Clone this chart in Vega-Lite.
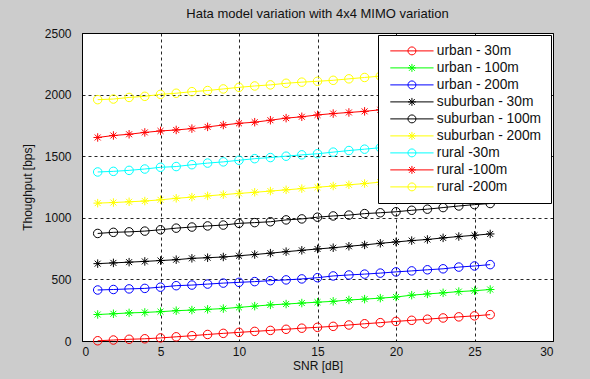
{
"$schema": "https://vega.github.io/schema/vega-lite/v6.json",
"width": 471, "height": 308,
"autosize": {"type": "none"},
"padding": {"left": 82, "top": 33, "right": 37, "bottom": 38},
"background": "#cccccc",
"title": {"text": "Hata model variation with 4x4 MIMO variation", "font": "Liberation Sans", "fontSize": 13, "fontWeight": "normal", "color": "#111111", "offset": 6},
"config": {
  "view": {"fill": "white", "stroke": "black", "strokeWidth": 1},
  "axis": {"grid": true, "gridColor": "#000000", "gridDash": [3, 3], "gridOpacity": 0.85, "gridWidth": 1, "domain": false, "ticks": false,
    "labelFont": "Liberation Sans", "labelFontSize": 12, "labelColor": "#111111",
    "titleFont": "Liberation Sans", "titleFontSize": 12, "titleFontWeight": "normal", "titleColor": "#111111"}
},
"data": {"values": [
{"s":"urban - 30m","x":1,"y":2},{"s":"urban - 30m","x":2,"y":8},{"s":"urban - 30m","x":3,"y":14},{"s":"urban - 30m","x":4,"y":18},{"s":"urban - 30m","x":5,"y":25},{"s":"urban - 30m","x":6,"y":34},{"s":"urban - 30m","x":7,"y":43},{"s":"urban - 30m","x":8,"y":53},{"s":"urban - 30m","x":9,"y":62},{"s":"urban - 30m","x":10,"y":70},{"s":"urban - 30m","x":11,"y":78},{"s":"urban - 30m","x":12,"y":86},{"s":"urban - 30m","x":13,"y":95},{"s":"urban - 30m","x":14,"y":104},{"s":"urban - 30m","x":15,"y":111},{"s":"urban - 30m","x":16,"y":119},{"s":"urban - 30m","x":17,"y":130},{"s":"urban - 30m","x":18,"y":140},{"s":"urban - 30m","x":19,"y":149},{"s":"urban - 30m","x":20,"y":159},{"s":"urban - 30m","x":21,"y":168},{"s":"urban - 30m","x":22,"y":177},{"s":"urban - 30m","x":23,"y":187},{"s":"urban - 30m","x":24,"y":196},{"s":"urban - 30m","x":25,"y":204},{"s":"urban - 30m","x":26,"y":214},
{"s":"urban - 100m","x":1,"y":215},{"s":"urban - 100m","x":2,"y":221},{"s":"urban - 100m","x":3,"y":228},{"s":"urban - 100m","x":4,"y":232},{"s":"urban - 100m","x":5,"y":238},{"s":"urban - 100m","x":6,"y":246},{"s":"urban - 100m","x":7,"y":251},{"s":"urban - 100m","x":8,"y":257},{"s":"urban - 100m","x":9,"y":263},{"s":"urban - 100m","x":10,"y":273},{"s":"urban - 100m","x":11,"y":283},{"s":"urban - 100m","x":12,"y":293},{"s":"urban - 100m","x":13,"y":300},{"s":"urban - 100m","x":14,"y":308},{"s":"urban - 100m","x":15,"y":315},{"s":"urban - 100m","x":16,"y":322},{"s":"urban - 100m","x":17,"y":333},{"s":"urban - 100m","x":18,"y":340},{"s":"urban - 100m","x":19,"y":348},{"s":"urban - 100m","x":20,"y":357},{"s":"urban - 100m","x":21,"y":372},{"s":"urban - 100m","x":22,"y":382},{"s":"urban - 100m","x":23,"y":391},{"s":"urban - 100m","x":24,"y":401},{"s":"urban - 100m","x":25,"y":408},{"s":"urban - 100m","x":26,"y":418},
{"s":"urban - 200m","x":1,"y":414},{"s":"urban - 200m","x":2,"y":418},{"s":"urban - 200m","x":3,"y":423},{"s":"urban - 200m","x":4,"y":427},{"s":"urban - 200m","x":5,"y":437},{"s":"urban - 200m","x":6,"y":449},{"s":"urban - 200m","x":7,"y":454},{"s":"urban - 200m","x":8,"y":462},{"s":"urban - 200m","x":9,"y":470},{"s":"urban - 200m","x":10,"y":476},{"s":"urban - 200m","x":11,"y":482},{"s":"urban - 200m","x":12,"y":490},{"s":"urban - 200m","x":13,"y":496},{"s":"urban - 200m","x":14,"y":504},{"s":"urban - 200m","x":15,"y":514},{"s":"urban - 200m","x":16,"y":528},{"s":"urban - 200m","x":17,"y":536},{"s":"urban - 200m","x":18,"y":543},{"s":"urban - 200m","x":19,"y":551},{"s":"urban - 200m","x":20,"y":561},{"s":"urban - 200m","x":21,"y":569},{"s":"urban - 200m","x":22,"y":578},{"s":"urban - 200m","x":23,"y":586},{"s":"urban - 200m","x":24,"y":600},{"s":"urban - 200m","x":25,"y":609},{"s":"urban - 200m","x":26,"y":620},
{"s":"suburban - 30m","x":1,"y":628},{"s":"suburban - 30m","x":2,"y":634},{"s":"suburban - 30m","x":3,"y":640},{"s":"suburban - 30m","x":4,"y":646},{"s":"suburban - 30m","x":5,"y":653},{"s":"suburban - 30m","x":6,"y":660},{"s":"suburban - 30m","x":7,"y":671},{"s":"suburban - 30m","x":8,"y":676},{"s":"suburban - 30m","x":9,"y":682},{"s":"suburban - 30m","x":10,"y":692},{"s":"suburban - 30m","x":11,"y":702},{"s":"suburban - 30m","x":12,"y":713},{"s":"suburban - 30m","x":13,"y":725},{"s":"suburban - 30m","x":14,"y":736},{"s":"suburban - 30m","x":15,"y":747},{"s":"suburban - 30m","x":16,"y":757},{"s":"suburban - 30m","x":17,"y":769},{"s":"suburban - 30m","x":18,"y":780},{"s":"suburban - 30m","x":19,"y":793},{"s":"suburban - 30m","x":20,"y":804},{"s":"suburban - 30m","x":21,"y":815},{"s":"suburban - 30m","x":22,"y":824},{"s":"suburban - 30m","x":23,"y":837},{"s":"suburban - 30m","x":24,"y":848},{"s":"suburban - 30m","x":25,"y":858},{"s":"suburban - 30m","x":26,"y":869},
{"s":"suburban - 100m","x":1,"y":873},{"s":"suburban - 100m","x":2,"y":882},{"s":"suburban - 100m","x":3,"y":886},{"s":"suburban - 100m","x":4,"y":892},{"s":"suburban - 100m","x":5,"y":903},{"s":"suburban - 100m","x":6,"y":916},{"s":"suburban - 100m","x":7,"y":925},{"s":"suburban - 100m","x":8,"y":934},{"s":"suburban - 100m","x":9,"y":941},{"s":"suburban - 100m","x":10,"y":955},{"s":"suburban - 100m","x":11,"y":961},{"s":"suburban - 100m","x":12,"y":968},{"s":"suburban - 100m","x":13,"y":983},{"s":"suburban - 100m","x":14,"y":991},{"s":"suburban - 100m","x":15,"y":1005},{"s":"suburban - 100m","x":16,"y":1015},{"s":"suburban - 100m","x":17,"y":1022},{"s":"suburban - 100m","x":18,"y":1034},{"s":"suburban - 100m","x":19,"y":1041},{"s":"suburban - 100m","x":20,"y":1049},{"s":"suburban - 100m","x":21,"y":1061},{"s":"suburban - 100m","x":22,"y":1070},{"s":"suburban - 100m","x":23,"y":1083},{"s":"suburban - 100m","x":24,"y":1096},{"s":"suburban - 100m","x":25,"y":1107},{"s":"suburban - 100m","x":26,"y":1116},
{"s":"suburban - 200m","x":1,"y":1119},{"s":"suburban - 200m","x":2,"y":1124},{"s":"suburban - 200m","x":3,"y":1130},{"s":"suburban - 200m","x":4,"y":1136},{"s":"suburban - 200m","x":5,"y":1146},{"s":"suburban - 200m","x":6,"y":1158},{"s":"suburban - 200m","x":7,"y":1168},{"s":"suburban - 200m","x":8,"y":1178},{"s":"suburban - 200m","x":9,"y":1188},{"s":"suburban - 200m","x":10,"y":1198},{"s":"suburban - 200m","x":11,"y":1207},{"s":"suburban - 200m","x":12,"y":1217},{"s":"suburban - 200m","x":13,"y":1227},{"s":"suburban - 200m","x":14,"y":1237},{"s":"suburban - 200m","x":15,"y":1248},{"s":"suburban - 200m","x":16,"y":1258},{"s":"suburban - 200m","x":17,"y":1268},{"s":"suburban - 200m","x":18,"y":1278},{"s":"suburban - 200m","x":19,"y":1289},{"s":"suburban - 200m","x":20,"y":1300},{"s":"suburban - 200m","x":21,"y":1311},{"s":"suburban - 200m","x":22,"y":1322},{"s":"suburban - 200m","x":23,"y":1333},{"s":"suburban - 200m","x":24,"y":1344},{"s":"suburban - 200m","x":25,"y":1355},{"s":"suburban - 200m","x":26,"y":1366},
{"s":"rural -30m","x":1,"y":1372},{"s":"rural -30m","x":2,"y":1377},{"s":"rural -30m","x":3,"y":1385},{"s":"rural -30m","x":4,"y":1396},{"s":"rural -30m","x":5,"y":1410},{"s":"rural -30m","x":6,"y":1416},{"s":"rural -30m","x":7,"y":1431},{"s":"rural -30m","x":8,"y":1444},{"s":"rural -30m","x":9,"y":1454},{"s":"rural -30m","x":10,"y":1467},{"s":"rural -30m","x":11,"y":1480},{"s":"rural -30m","x":12,"y":1489},{"s":"rural -30m","x":13,"y":1500},{"s":"rural -30m","x":14,"y":1511},{"s":"rural -30m","x":15,"y":1520},{"s":"rural -30m","x":16,"y":1533},{"s":"rural -30m","x":17,"y":1546},{"s":"rural -30m","x":18,"y":1557},{"s":"rural -30m","x":19,"y":1569},{"s":"rural -30m","x":20,"y":1581},{"s":"rural -30m","x":21,"y":1593},{"s":"rural -30m","x":22,"y":1605},{"s":"rural -30m","x":23,"y":1617},{"s":"rural -30m","x":24,"y":1629},{"s":"rural -30m","x":25,"y":1641},{"s":"rural -30m","x":26,"y":1653},
{"s":"rural -100m","x":1,"y":1652},{"s":"rural -100m","x":2,"y":1668},{"s":"rural -100m","x":3,"y":1678},{"s":"rural -100m","x":4,"y":1693},{"s":"rural -100m","x":5,"y":1705},{"s":"rural -100m","x":6,"y":1713},{"s":"rural -100m","x":7,"y":1724},{"s":"rural -100m","x":8,"y":1738},{"s":"rural -100m","x":9,"y":1753},{"s":"rural -100m","x":10,"y":1767},{"s":"rural -100m","x":11,"y":1776},{"s":"rural -100m","x":12,"y":1792},{"s":"rural -100m","x":13,"y":1809},{"s":"rural -100m","x":14,"y":1820},{"s":"rural -100m","x":15,"y":1835},{"s":"rural -100m","x":16,"y":1846},{"s":"rural -100m","x":17,"y":1855},{"s":"rural -100m","x":18,"y":1864},{"s":"rural -100m","x":19,"y":1877},{"s":"rural -100m","x":20,"y":1890},{"s":"rural -100m","x":21,"y":1903},{"s":"rural -100m","x":22,"y":1916},{"s":"rural -100m","x":23,"y":1929},{"s":"rural -100m","x":24,"y":1942},{"s":"rural -100m","x":25,"y":1955},{"s":"rural -100m","x":26,"y":1968},
{"s":"rural -200m","x":1,"y":1959},{"s":"rural -200m","x":2,"y":1964},{"s":"rural -200m","x":3,"y":1977},{"s":"rural -200m","x":4,"y":1986},{"s":"rural -200m","x":5,"y":2002},{"s":"rural -200m","x":6,"y":2011},{"s":"rural -200m","x":7,"y":2024},{"s":"rural -200m","x":8,"y":2033},{"s":"rural -200m","x":9,"y":2046},{"s":"rural -200m","x":10,"y":2059},{"s":"rural -200m","x":11,"y":2070},{"s":"rural -200m","x":12,"y":2079},{"s":"rural -200m","x":13,"y":2092},{"s":"rural -200m","x":14,"y":2101},{"s":"rural -200m","x":15,"y":2108},{"s":"rural -200m","x":16,"y":2116},{"s":"rural -200m","x":17,"y":2128},{"s":"rural -200m","x":18,"y":2139},{"s":"rural -200m","x":19,"y":2150},{"s":"rural -200m","x":20,"y":2161},{"s":"rural -200m","x":21,"y":2172},{"s":"rural -200m","x":22,"y":2183},{"s":"rural -200m","x":23,"y":2194},{"s":"rural -200m","x":24,"y":2205},{"s":"rural -200m","x":25,"y":2216},{"s":"rural -200m","x":26,"y":2227}
]},
"encoding": {
  "x": {"field": "x", "type": "quantitative", "scale": {"domain": [0, 30], "nice": false, "zero": false},
        "axis": {"values": [0, 5, 10, 15, 20, 25, 30], "title": "SNR [dB]", "labelPadding": 5, "titlePadding": 3}},
  "y": {"field": "y", "type": "quantitative", "scale": {"domain": [0, 2500], "nice": false},
        "axis": {"values": [0, 500, 1000, 1500, 2000, 2500], "format": "d", "title": "Thoughput [bps]", "labelPadding": 11, "titlePadding": 10}}
},
"layer": [
  {"mark": {"type": "line", "strokeWidth": 1},
   "encoding": {"color": {"field": "s", "type": "nominal", "legend": null,
     "scale": {"domain": ["urban - 30m","urban - 100m","urban - 200m","suburban - 30m","suburban - 100m","suburban - 200m","rural -30m","rural -100m","rural -200m"],
               "range": ["#ff0000","#00ff00","#0000ff","#000000","#000000","#ffff00","#00ffff","#ff0000","#ffff00"]}}}},
  {"mark": {"type": "point", "filled": false, "size": 72, "strokeWidth": 1, "opacity": 1},
   "encoding": {
     "color": {"field": "s", "type": "nominal", "legend": null,
       "scale": {"domain": ["urban - 30m","urban - 100m","urban - 200m","suburban - 30m","suburban - 100m","suburban - 200m","rural -30m","rural -100m","rural -200m"],
                 "range": ["#ff0000","#00ff00","#0000ff","#000000","#000000","#ffff00","#00ffff","#ff0000","#ffff00"]}},
     "shape": {"field": "s", "type": "nominal", "legend": null,
       "scale": {"domain": ["urban - 30m","urban - 100m","urban - 200m","suburban - 30m","suburban - 100m","suburban - 200m","rural -30m","rural -100m","rural -200m"],
                 "range": ["circle","M-1,0H1M0,-1V1M-0.7,-0.7L0.7,0.7M-0.7,0.7L0.7,-0.7","circle","M-1,0H1M0,-1V1M-0.7,-0.7L0.7,0.7M-0.7,0.7L0.7,-0.7","circle","M-1,0H1M0,-1V1M-0.7,-0.7L0.7,0.7M-0.7,0.7L0.7,-0.7","circle","M-1,0H1M0,-1V1M-0.7,-0.7L0.7,0.7M-0.7,0.7L0.7,-0.7","circle"]}}}},
  {"mark": {"type": "point", "filled": false, "size": 52, "strokeWidth": 1, "opacity": 0},
   "encoding": {
     "color": {"field": "s", "type": "nominal",
       "scale": {"domain": ["urban - 30m","urban - 100m","urban - 200m","suburban - 30m","suburban - 100m","suburban - 200m","rural -30m","rural -100m","rural -200m"],
                 "range": ["#ff0000","#00ff00","#0000ff","#000000","#000000","#ffff00","#00ffff","#ff0000","#ffff00"]},
       "legend": {"title": null, "orient": "top-right", "offset": 2, "padding": 9, "fillColor": "white", "strokeColor": "black", "cornerRadius": 0,
                  "symbolSize": 52, "symbolStrokeWidth": 1, "symbolOpacity": 1, "labelOffset": 36, "labelFont": "Liberation Sans", "labelFontSize": 13.8, "labelColor": "#111111", "rowPadding": 2, "labelLimit": 200}},
     "shape": {"field": "s", "type": "nominal",
       "scale": {"domain": ["urban - 30m","urban - 100m","urban - 200m","suburban - 30m","suburban - 100m","suburban - 200m","rural -30m","rural -100m","rural -200m"],
                 "range": ["M-1,0H11M3.9,0A1.1,1.1 0 1,0 6.1,0A1.1,1.1 0 1,0 3.9,0","M-1,0H11M3.9,0H6.1M5,-1.1V1.1M4.2,-0.8L5.8,0.8M4.2,0.8L5.8,-0.8","M-1,0H11M3.9,0A1.1,1.1 0 1,0 6.1,0A1.1,1.1 0 1,0 3.9,0","M-1,0H11M3.9,0H6.1M5,-1.1V1.1M4.2,-0.8L5.8,0.8M4.2,0.8L5.8,-0.8","M-1,0H11M3.9,0A1.1,1.1 0 1,0 6.1,0A1.1,1.1 0 1,0 3.9,0","M-1,0H11M3.9,0H6.1M5,-1.1V1.1M4.2,-0.8L5.8,0.8M4.2,0.8L5.8,-0.8","M-1,0H11M3.9,0A1.1,1.1 0 1,0 6.1,0A1.1,1.1 0 1,0 3.9,0","M-1,0H11M3.9,0H6.1M5,-1.1V1.1M4.2,-0.8L5.8,0.8M4.2,0.8L5.8,-0.8","M-1,0H11M3.9,0A1.1,1.1 0 1,0 6.1,0A1.1,1.1 0 1,0 3.9,0"]},
       "legend": {"title": null, "orient": "top-right", "offset": 2, "padding": 9, "fillColor": "white", "strokeColor": "black", "cornerRadius": 0,
                  "symbolSize": 52, "symbolStrokeWidth": 1, "symbolOpacity": 1, "labelOffset": 36, "labelFont": "Liberation Sans", "labelFontSize": 13.8, "labelColor": "#111111", "rowPadding": 2, "labelLimit": 200}}}}
],
"resolve": {"scale": {"color": "independent", "shape": "independent"}}
}
